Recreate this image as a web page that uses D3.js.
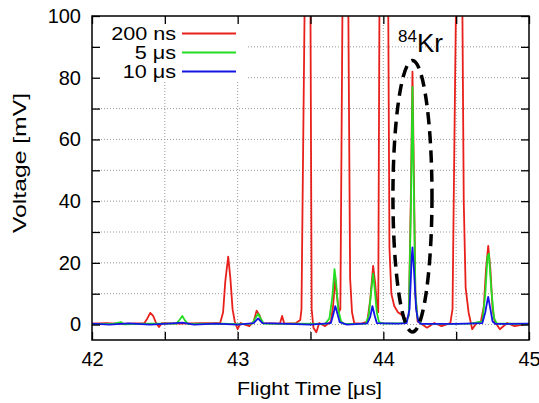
<!DOCTYPE html>
<html lang="en">
<head>
  <meta charset="UTF-8">
  <title>TOF spectrum</title>
  <script src="https://cdn.jsdelivr.net/npm/d3@7"></script>
  <style>
    body { margin: 0; background: #fff; }
    text { font-family: "Liberation Sans", Arial, sans-serif; fill: #000; }
  </style>
</head>
<body>
<script>

// Series names and colours
var seriesNames = ["200 ns", "5 \u03bcs", "10 \u03bcs"];
var seriesColors = ["#e8201c", "#22dd22", "#1414e6"];

// Tick values
var xTicks = [42, 42.5, 43, 43.5, 44, 44.5, 45];
var xLabels = [42, 43, 44, 45];
var yTicks = [0, 10, 20, 30, 40, 50, 60, 70, 80, 90, 100];
var yLabels = [0, 20, 40, 60, 80, 100];

// Traces: [flight time (us), voltage (mV)]
var trace200ns = [
  [42.00,0.3],[42.10,0.5],[42.20,0.2],[42.30,0.4],[42.36,0.5],[42.38,2],[42.40,3.8],[42.42,2.8],
  [42.44,0.5],[42.46,-0.8],[42.48,0.5],[42.60,0.3],[42.75,0.5],[42.88,0.5],[42.90,4],[42.915,14],
  [42.935,22],[42.95,15],[42.965,5],[42.98,1],[43.00,-1.5],[43.02,0.5],[43.08,-0.5],[43.11,1],
  [43.13,4.5],[43.15,3],[43.17,0.5],[43.29,0.3],[43.305,2.8],[43.32,0.3],[43.40,0.5],[43.43,1.5],
  [43.438,5],[43.459,100],[43.47,200],[43.49,200],[43.50,100],[43.508,5],[43.52,-1],[43.54,-2.5],
  [43.56,0.5],[43.60,-0.5],[43.64,1],[43.655,6],[43.67,15],[43.68,10],[43.695,4],[43.705,5],
  [43.719,100],[43.73,200],[43.75,200],[43.76,100],[43.772,15],[43.785,4],[43.80,0.5],[43.85,0.3],
  [43.89,1],[43.91,8],[43.93,19],[43.945,13],[43.958,5],[43.965,4],[43.973,100],[43.98,200],
  [44.025,200],[44.034,100],[44.042,25],[44.055,10],[44.075,6],[44.10,4],[44.13,3],[44.16,1.5],
  [44.175,3],[44.19,45],[44.20,82],[44.21,48],[44.22,10],[44.235,1],[44.26,0.3],[44.30,-1],
  [44.35,0.5],[44.40,-0.5],[44.46,0.5],[44.475,5],[44.488,60],[44.498,100],[44.51,200],[44.535,200],
  [44.543,100],[44.552,40],[44.565,12],[44.585,4],[44.61,-1.5],[44.64,0.5],[44.67,1],[44.69,6],
  [44.705,18],[44.72,25.5],[44.735,18],[44.75,5],[44.765,1],[44.80,-1.5],[44.85,0.5],[44.90,-0.5],
  [45.00,0.3]
];

var trace5us = [
  [42.00,0.2],[42.15,0.3],[42.20,0.8],[42.22,0.1],[42.40,0.3],[42.58,0.3],[42.60,1.5],[42.62,2.8],
  [42.64,1.2],[42.66,0.2],[42.90,0.3],[43.00,0.1],[43.10,0.3],[43.12,2],[43.14,3.5],[43.16,1.8],
  [43.18,0.3],[43.30,0.2],[43.40,0.3],[43.60,0.2],[43.63,2],[43.65,9],[43.665,18],[43.675,14],
  [43.69,5],[43.71,1],[43.73,0.2],[43.88,0.3],[43.90,3],[43.915,10],[43.93,16.5],[43.94,12],
  [43.955,4],[43.97,0.8],[44.00,0.3],[44.15,0.5],[44.175,3],[44.19,40],[44.20,77],[44.21,42],
  [44.22,10],[44.235,2],[44.26,0.3],[44.40,0.2],[44.60,0.3],[44.68,1],[44.70,10],[44.715,22],
  [44.725,23],[44.74,12],[44.76,2],[44.78,0.3],[45.00,0.2]
];

var trace10us = [
  [42.00,0.3],[42.12,0],[42.25,0.4],[42.40,0],[42.55,0.4],[42.62,0.6],[42.70,0],[42.85,0.3],
  [43.00,0],[43.11,0.5],[43.14,2],[43.17,0.5],[43.30,0.3],[43.50,0],[43.64,0.5],[43.655,3],
  [43.67,6],[43.685,3.5],[43.70,0.8],[43.75,0],[43.89,0.4],[43.91,2.5],[43.925,6],[43.94,3],
  [43.955,0.5],[44.10,0.3],[44.16,0.5],[44.18,5],[44.195,22],[44.20,25],[44.21,18],[44.225,5],
  [44.24,1],[44.26,0.2],[44.50,0.2],[44.68,0.5],[44.70,4],[44.715,8],[44.72,9],[44.735,5],
  [44.75,1],[44.77,0.2],[45.00,0.3]
];

var traces = [trace200ns, trace5us, trace10us];

// Width and height
var w = 539, h = 403;
var padL = 92, padR = 529, padT = 16, padB = 340;

var xScale = d3.scaleLinear().domain([42, 45]).range([padL, padR]);
var yScale = d3.scaleLinear().domain([-5, 100]).range([padB, padT]);

var svg = d3.select("body").append("svg")
  .attr("width", w)
  .attr("height", h);

svg.append("clipPath").attr("id", "plot")
  .append("rect")
  .attr("x", padL).attr("y", padT)
  .attr("width", padR - padL).attr("height", padB - padT);

// Dotted grid
var grid = svg.append("g").attr("stroke", "#999").attr("stroke-width", 1).attr("stroke-dasharray", "1,2");
grid.selectAll(".gx").data(xTicks.slice(1, -1)).enter().append("line")
  .attr("x1", function(d) { return xScale(d); })
  .attr("x2", function(d) { return xScale(d); })
  .attr("y1", padT).attr("y2", padB);
grid.selectAll(".gy").data(yTicks.slice(0, -1)).enter().append("line")
  .attr("x1", padL).attr("x2", padR)
  .attr("y1", function(d) { return yScale(d); })
  .attr("y2", function(d) { return yScale(d); });

// Legend box hides the grid underneath
svg.append("rect")
  .attr("x", padL + 1).attr("y", padT + 1)
  .attr("width", 153).attr("height", 64)
  .attr("fill", "#fff");

// Traces
var line = d3.line()
  .x(function(d) { return xScale(d[0]); })
  .y(function(d) { return yScale(d[1]); });

svg.append("g").attr("clip-path", "url(#plot)")
  .selectAll("path")
  .data(traces)
  .enter()
  .append("path")
  .attr("d", line)
  .attr("fill", "none")
  .attr("stroke", function(d, i) { return seriesColors[i]; })
  .attr("stroke-width", 1.8)
  .attr("stroke-linejoin", "round");

// Axes with inward ticks on all four sides
function fmt(labels) {
  return function(d) { return labels.indexOf(d) >= 0 ? d : ""; };
}

var xAxis = svg.append("g")
  .attr("transform", "translate(0," + padB + ")")
  .call(d3.axisBottom(xScale).tickValues(xTicks).tickSize(-8).tickPadding(9).tickFormat(fmt(xLabels)));
var xAxisTop = svg.append("g")
  .attr("transform", "translate(0," + padT + ")")
  .call(d3.axisTop(xScale).tickValues(xTicks).tickSize(-8).tickFormat(""));
var yAxis = svg.append("g")
  .attr("transform", "translate(" + padL + ",0)")
  .call(d3.axisLeft(yScale).tickValues(yTicks).tickSize(-8).tickPadding(11).tickFormat(fmt(yLabels)));
var yAxisRight = svg.append("g")
  .attr("transform", "translate(" + padR + ",0)")
  .call(d3.axisRight(yScale).tickValues(yTicks).tickSize(-8).tickFormat(""));

[xAxis, xAxisTop, yAxis, yAxisRight].forEach(function(g) {
  g.select(".domain").remove();
  g.selectAll("line").attr("stroke", "#000").attr("stroke-width", 1.3);
  g.selectAll("text").style("font-size", "20px").attr("fill", "#000");
});
xAxis.selectAll("text").attr("dy", "0.85em");

// Frame
svg.append("rect")
  .attr("x", padL).attr("y", padT)
  .attr("width", padR - padL).attr("height", padB - padT)
  .attr("fill", "none").attr("stroke", "#000").attr("stroke-width", 1.5);

// Axis labels
svg.append("text")
  .attr("x", (padL + padR) / 2 - 1).attr("y", 395)
  .attr("text-anchor", "middle")
  .style("font-size", "19px")
  .attr("textLength", 145)
  .attr("lengthAdjust", "spacingAndGlyphs")
  .text("Flight Time [\u03bcs]");

svg.append("text")
  .attr("transform", "translate(26," + ((padT + padB) / 2 - 15) + ") rotate(-90)")
  .attr("text-anchor", "middle")
  .style("font-size", "19px")
  .attr("textLength", 140)
  .attr("lengthAdjust", "spacingAndGlyphs")
  .text("Voltage [mV]");

// Legend
var legend = svg.append("g");
seriesNames.forEach(function(name, i) {
  var yy = 33.5 + i * 19;
  legend.append("text")
    .attr("transform", "translate(176," + (yy + 6.5) + ") scale(1.2,1)")
    .attr("text-anchor", "end")
    .style("font-size", "18px")
    .text(name);
  legend.append("line")
    .attr("x1", 182).attr("x2", 236)
    .attr("y1", yy).attr("y2", yy)
    .attr("stroke", seriesColors[i]).attr("stroke-width", 1.8);
});

// 84Kr marker
svg.append("ellipse")
  .attr("cx", xScale(44.2))
  .attr("cy", yScale(41.6))
  .attr("rx", xScale(44.134) - xScale(44.0))
  .attr("ry", yScale(-2.4) - yScale(41.6))
  .attr("fill", "none")
  .attr("stroke", "#000")
  .attr("stroke-width", 3.5)
  .attr("stroke-dasharray", "12,7");

var kr = svg.append("text")
  .attr("x", 398).attr("y", 52);
kr.append("tspan").style("font-size", "17px").attr("dy", -10).text("84");
kr.append("tspan").style("font-size", "26px").attr("dy", 10).text("Kr");

</script>
</body>
</html>
